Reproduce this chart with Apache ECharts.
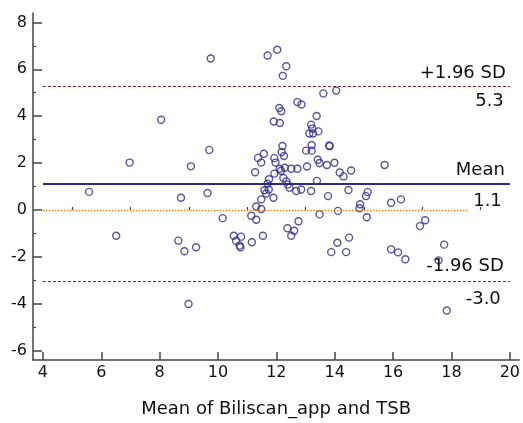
<!DOCTYPE html>
<html><head><meta charset="utf-8">
<script src="https://cdn.jsdelivr.net/npm/echarts@6/dist/echarts.min.js"></script>
<style>html,body{margin:0;padding:0;background:#fff}#c{width:523px;height:423px}</style>
</head><body><div id="c"></div>
<script>
// Mean of Biliscan_app and TSB (x) and difference (y)
const meanX = [
  9.75, 11.70, 12.03, 12.34, 12.22, 13.61, 14.05, 12.72, 12.86, 12.10,
  12.17, 11.91, 12.12, 13.38, 13.19, 13.23, 13.13, 13.44, 13.26, 8.05,
  12.21, 12.18, 12.26, 13.21, 13.02, 13.21, 13.81, 13.83, 9.70,
  6.97, 9.07, 11.27, 11.37, 11.57, 11.48, 11.97, 11.93, 11.93, 11.75,
  12.11, 12.16, 12.29, 12.51, 12.72, 13.05, 13.42, 13.48, 13.73, 13.99,
  15.71, 14.17, 14.30, 14.56, 13.39, 12.24, 12.34, 11.70,
  12.39, 12.45, 12.68, 12.85, 13.19, 13.77, 14.47, 15.13, 15.07, 15.93,
  16.27, 14.87, 14.85, 14.11, 13.48, 5.58, 8.73, 9.64, 11.59, 11.74,
  11.65, 11.90, 11.48, 11.31, 11.48,
  10.16, 11.14, 11.31, 15.10, 17.10, 16.92, 12.76, 12.38, 12.61, 12.51,
  14.49, 14.09, 13.88, 14.39, 15.93, 16.17, 16.42, 17.75, 17.56, 17.84,
  6.51, 8.64, 8.85, 9.25, 8.99, 10.54, 10.79, 10.62, 10.74, 10.77,
  11.16, 11.54
];
const diffY = [
  6.46, 6.59, 6.83, 6.13, 5.72, 4.97, 5.09, 4.60, 4.50, 4.35,
  4.21, 3.77, 3.71, 4.01, 3.64, 3.47, 3.26, 3.35, 3.26, 3.85,
  2.73, 2.47, 2.30, 2.77, 2.53, 2.53, 2.75, 2.72, 2.56,
  2.02, 1.86, 1.61, 2.22, 2.40, 2.02, 2.02, 2.21, 1.55, 1.31,
  1.76, 1.67, 1.80, 1.76, 1.76, 1.85, 2.14, 2.00, 1.92, 2.01,
  1.92, 1.60, 1.43, 1.68, 1.24, 1.36, 1.22, 1.12,
  1.08, 0.95, 0.81, 0.87, 0.81, 0.59, 0.85, 0.76, 0.59, 0.31,
  0.45, 0.24, 0.07, -0.04, -0.19, 0.77, 0.52, 0.72, 0.84, 0.87,
  0.70, 0.52, 0.45, 0.15, 0.04,
  -0.35, -0.25, -0.42, -0.31, -0.44, -0.69, -0.48, -0.78, -0.89, -1.10,
  -1.18, -1.40, -1.80, -1.80, -1.68, -1.81, -2.10, -1.48, -2.15, -4.29,
  -1.10, -1.31, -1.76, -1.59, -4.01, -1.10, -1.14, -1.31, -1.52, -1.59,
  -1.38, -1.10
];
const xTicks = [4, 6, 8, 10, 12, 14, 16, 18, 20];
const xMinorTicks = [5, 7, 9, 11, 13, 15, 17, 19];
const yTicks = [-6, -4, -2, 0, 2, 4, 6, 8];
const yMinorTicks = [-5, -3, -1, 1, 3, 5, 7];
const upperLoA = 5.26;
const meanDiff = 1.11;
const lowerLoA = -3.04;
const lineStartX = 4;
const lineEndX = 20;
const zeroEndX = 18.55;

const xMin = 3.66, xMax = 20.32, yMin = -6.4, yMax = 8.4;
const FONT = 'DejaVu Sans';
const axisColor = '#444';
const navy = '#2b2b8f';
const darkRed = '#8e1c1c';
const orange = '#ff8000';

const chart = echarts.init(document.getElementById('c'), null, {renderer: 'canvas'});

function hline(y, color, width, type, labelPos, text, dist) {
  return [
    {coord: [lineStartX, y], lineStyle: {color: color, width: width, type: type},
     label: {show: !!text, position: labelPos, formatter: text || '', distance: dist,
             color: '#111', fontFamily: FONT, fontSize: 18}},
    {coord: [lineEndX, y]}
  ];
}

const scatterData = meanX.map((x, i) => [x, diffY[i]]);

const option = {
  animation: false,
  backgroundColor: '#fff',
  grid: {left: 33, right: 3, top: 13, bottom: 59},
  xAxis: [{
    type: 'value', min: xMin, max: xMax,
    name: 'Mean of Biliscan_app and TSB', nameLocation: 'middle', nameGap: 40,
    nameTextStyle: {fontFamily: FONT, fontSize: 18, color: '#111'},
    axisLine: {show: true, onZero: false, lineStyle: {color: axisColor, width: 1.5}},
    axisTick: {show: true, inside: true, length: 8, customValues: xTicks, lineStyle: {color: axisColor, width: 1.5}},
    axisLabel: {show: true, customValues: xTicks, margin: 5, fontFamily: FONT, fontSize: 16, color: '#111'},
    splitLine: {show: false}
  }, {
    type: 'value', min: xMin, max: xMax, position: 'bottom',
    axisLine: {show: false},
    axisTick: {show: true, inside: true, length: 3, customValues: xMinorTicks, lineStyle: {color: axisColor, width: 1.2}},
    axisLabel: {show: false}, splitLine: {show: false}
  }],
  yAxis: [{
    type: 'value', min: yMin, max: yMax,
    axisLine: {show: true, onZero: false, lineStyle: {color: axisColor, width: 1.5}},
    axisTick: {show: true, inside: true, length: 9, customValues: yTicks, lineStyle: {color: axisColor, width: 1.5}},
    axisLabel: {show: true, customValues: yTicks, margin: 6, fontFamily: FONT, fontSize: 16, color: '#111'},
    splitLine: {show: false}
  }, {
    type: 'value', min: yMin, max: yMax, position: 'left',
    axisLine: {show: false},
    axisTick: {show: true, inside: true, length: 3, customValues: yMinorTicks, lineStyle: {color: axisColor, width: 1.2}},
    axisLabel: {show: false}, splitLine: {show: false}
  }],
  series: [{
    type: 'scatter',
    xAxisIndex: 0, yAxisIndex: 0,
    data: scatterData,
    symbol: 'circle', symbolSize: 7,
    itemStyle: {color: 'rgba(255,255,255,0)', borderColor: navy, borderWidth: 1.4},
    markLine: {
      silent: true, symbol: 'none', animation: false,
      data: [
        [{coord: [lineStartX, 0], lineStyle: {color: orange, width: 1.3, type: [1.5, 1.5], opacity: 1}, label: {show: false}},
         {coord: [zeroEndX, 0]}],
        hline(upperLoA, darkRed, 1, [3, 2], 'insideEndTop', '+1.96 SD', 4),
        hline(upperLoA, 'rgba(0,0,0,0)', 0, 'solid', 'insideEndBottom', upperLoA.toFixed(1), 6),
        hline(meanDiff, navy, 2, 'solid', 'insideEndTop', 'Mean', 5),
        hline(meanDiff, 'rgba(0,0,0,0)', 0, 'solid', 'insideEndBottom', meanDiff.toFixed(1), 8),
        hline(lowerLoA, darkRed, 1, [3, 2], 'insideEndTop', '-1.96 SD', 6),
        hline(lowerLoA, 'rgba(0,0,0,0)', 0, 'solid', 'insideEndBottom', lowerLoA.toFixed(1), 9)
      ]
    }
  }]
};
chart.setOption(option);
</script></body></html>
